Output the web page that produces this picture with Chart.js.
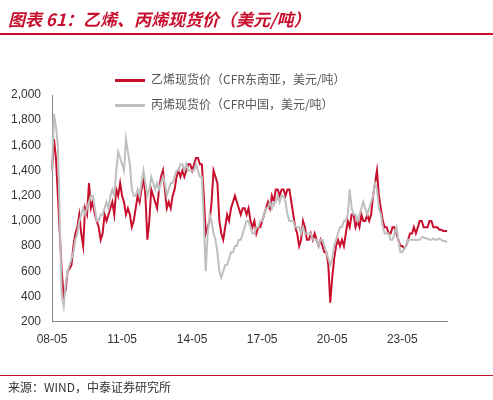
<!DOCTYPE html>
<html>
<head>
<meta charset="utf-8">
<script src="https://cdn.jsdelivr.net/npm/chart.js@4"></script>
<style>
  body { margin: 0; width: 493px; height: 400px; background: #fff; position: relative; overflow: hidden; font-family: "Noto Sans CJK SC", "Noto Sans", sans-serif; }
  #title { position: absolute; left: 8px; top: 6px; color: #c8102e; font-size: 17px; font-weight: bold; font-style: italic; }
  #topline { position: absolute; left: 0; top: 33px; width: 493px; height: 2px; background: #c8102e; }
  #legend { position: absolute; left: 115px; top: 66px; font-size: 12px; color: #555; }
  .item { height: 25px; line-height: 25px; }
  .swatch { display: inline-block; width: 30px; height: 3px; vertical-align: middle; margin-right: 6px; }
  #footline { position: absolute; left: 0; top: 375px; width: 493px; height: 1px; background: #c8102e; }
  #source { position: absolute; left: 8px; top: 378px; font-size: 12px; color: #333; }
  #chart { position: absolute; left: 0; top: 0; }
</style>
</head>
<body>
<canvas id="chart" width="493" height="400"></canvas>
<div id="title">图表 61：乙烯、丙烯现货价（美元/吨）</div>
<div id="topline"></div>
<div id="legend">
  <div class="item"><span class="swatch" style="background:#c8102e"></span>乙烯现货价（CFR东南亚，美元/吨）</div>
  <div class="item"><span class="swatch" style="background:#bfbfbf"></span>丙烯现货价（CFR中国，美元/吨）</div>
</div>
<div id="footline"></div>
<div id="source">来源：WIND，中泰证券研究所</div>
<script>
// monthly, 2008-05 .. 2025-04
const ethylene = [
  1400,1650,1500,1200,900,600,400,450,600,620,650,800,
  900,950,1050,900,800,1100,1050,1300,1100,1150,1050,1000,
  950,850,900,1050,1000,1050,1100,1150,1050,1250,1200,1300,
  1200,1150,1050,1100,1050,950,1000,1100,1200,1150,1250,1350,
  1200,850,1000,1250,1200,1150,1100,1250,1350,1400,1250,1100,
  1150,1100,1200,1250,1350,1400,1350,1400,1350,1400,1450,1450,
  1400,1450,1500,1500,1450,1450,1200,900,950,1000,1150,1400,
  1350,1300,1000,900,850,950,1050,1000,1100,1150,1200,1150,
  1100,1050,1100,1100,1050,1100,1000,950,1000,900,950,950,
  1000,1050,1100,1150,1100,1200,1150,1250,1250,1200,1250,1250,
  1200,1250,1250,1150,1050,950,900,800,850,1000,950,850,
  850,900,850,900,850,800,850,800,750,750,650,350,
  550,700,800,850,800,850,800,900,1000,950,1050,1050,
  950,1000,950,1050,1000,1000,1050,1000,1050,1200,1300,1400,
  1200,1100,1000,950,950,900,900,950,950,900,850,800,
  800,780,800,850,900,900,950,900,950,1000,1000,950,
  950,950,1000,1000,950,950,950,930,930,920,920,920
];
const propylene = [
  1400,1850,1750,1600,1000,400,320,500,600,650,700,750,
  850,900,1000,1050,1100,1050,1100,1150,1200,1200,1100,1000,
  1000,1050,1050,1100,1150,1100,1200,1250,1200,1400,1550,1500,
  1450,1400,1650,1550,1450,1250,1200,1200,1250,1200,1300,1400,
  1300,1200,1250,1350,1300,1250,1300,1250,1300,1350,1300,1200,
  1250,1300,1300,1350,1400,1400,1450,1450,1400,1450,1400,1400,
  1400,1400,1450,1400,1350,1350,1000,600,900,1050,1000,900,
  850,750,600,550,600,650,650,700,750,750,800,800,
  850,850,900,950,1000,1000,950,900,900,950,950,1000,
  1000,1050,1100,1100,1150,1100,1150,1150,1200,1150,1200,1200,
  1150,1050,1000,1000,1000,950,950,950,900,950,900,900,
  900,900,850,850,850,800,850,850,800,750,700,650,
  700,800,850,900,950,950,1000,1000,1050,1250,1100,1050,
  1050,1000,1050,1100,1150,1100,1050,1100,1150,1200,1300,1250,
  1100,1050,950,900,900,900,850,850,900,950,850,750,
  750,780,800,850,850,850,850,850,850,850,870,870,
  860,860,850,850,860,850,850,860,850,840,840,830
];
const tickLabels = ['08-05', '11-05', '14-05', '17-05', '20-05', '23-05'];

const months = [];
for (let i = 0; i < ethylene.length; i++) {
  const y = 2008 + Math.floor((4 + i) / 12);
  const m = (4 + i) % 12 + 1;
  months.push(String(y % 100).padStart(2, '0') + '-' + String(m).padStart(2, '0'));
}

new Chart(document.getElementById('chart'), {
  type: 'line',
  data: {
    labels: months,
    datasets: [
      { data: propylene, borderColor: '#bfbfbf', borderWidth: 2, pointRadius: 0, tension: 0 },
      { data: ethylene, borderColor: '#c8102e', borderWidth: 2, pointRadius: 0, tension: 0 }
    ]
  },
  options: {
    responsive: false,
    animation: false,
    layout: { padding: { top: 95, bottom: 50, left: 8, right: 46 } },
    plugins: { legend: { display: false }, tooltip: { enabled: false } },
    scales: {
      x: {
        grid: { display: false },
        border: { color: '#888' },
        ticks: {
          autoSkip: false, maxRotation: 0, color: '#333',
          font: { size: 12, family: 'Liberation Sans' },
          callback: function(v, i) {
            const lab = months[i];
            return tickLabels.includes(lab) ? lab : null;
          }
        }
      },
      y: {
        min: 200, max: 2000,
        grid: { display: false },
        border: { color: '#888' },
        ticks: { stepSize: 200, color: '#333', font: { size: 12, family: 'Liberation Sans' } }
      }
    }
  }
});
</script>
</body>
</html>
